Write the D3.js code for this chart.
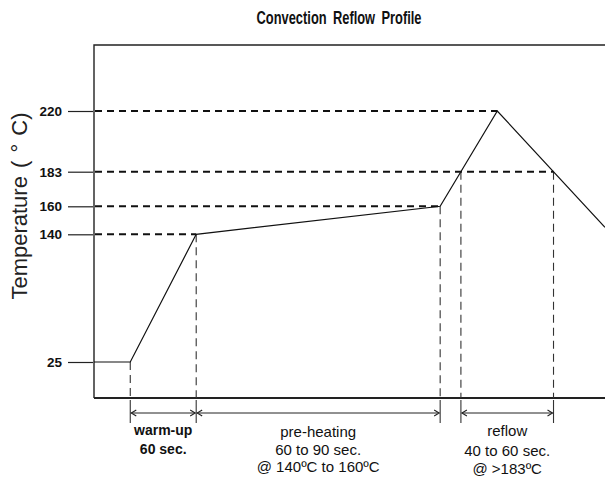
<!DOCTYPE html>
<html><head><meta charset="utf-8">
<script src="https://cdn.jsdelivr.net/npm/d3@7"></script>
<style>body{margin:0;background:#fff}svg{display:block}</style>
</head><body>
<svg id="c" width="605" height="481"></svg>
<script>
// ---- data ----
const title = "Convection Reflow Profile";
const yLabel = "Temperature ( \u00B0 C)";
const tempTicks = [25, 140, 160, 183, 220];
const profileTime = [0, 33, 93, 315, 367, 465];   // schematic seconds
const profileTemp = [25, 25, 140, 160, 220, 145];
const warmLabel = ["warm-up", "60 sec."];
const preLabel = ["pre-heating", "60 to 90 sec.", "@ 140\u00BAC to 160\u00BAC"];
const reflowLabel = ["reflow", "40 to 60 sec.", "@ >183\u00BAC"];
const reflowTemp = 183;

// ---- layout ----
const svg = d3.select("#c");
const box = {left: 94, right: 606, top: 45, bottom: 398};
const x = d3.scaleLinear().domain([0, 465]).range([94, 605]);
const y = d3.scaleLinear().domain(tempTicks).range([362, 234.3, 206.3, 171.7, 111]);
const font = "'Liberation Sans', Arial, Helvetica, sans-serif";

const pts = profileTime.map((t, i) => [x(t), y(profileTemp[i])]);

// pixel-space crossings of a temperature level
function crossings(temp) {
  const ty = y(temp), out = [];
  for (let i = 0; i < pts.length - 1; i++) {
    const [x0, y0] = pts[i], [x1, y1] = pts[i + 1];
    if ((ty - y0) * (ty - y1) <= 0 && y0 !== y1) {
      const f = (ty - y0) / (y1 - y0);
      const cx = x0 + f * (x1 - x0);
      if (!out.some(v => Math.abs(v - cx) < 0.5)) out.push(cx);
    }
  }
  return out;
}

// ---- title ----
svg.append("text").attr("x", 339).attr("y", 24).attr("text-anchor", "middle")
  .attr("font-family", font).attr("font-weight", "bold").attr("font-size", 19)
  .attr("word-spacing", 4)
  .attr("textLength", 165).attr("lengthAdjust", "spacingAndGlyphs")
  .attr("fill", "#111").text(title);

// ---- y label ----
svg.append("text").attr("transform", "translate(27,206) rotate(-90)")
  .attr("text-anchor", "middle").attr("font-family", font).attr("font-size", 22)
  .attr("word-spacing", 2)
  .attr("fill", "#222").text(yLabel);

// ---- box ----
svg.append("path")
  .attr("d", `M${box.right},${box.top}H${box.left}V${box.bottom}`)
  .attr("fill", "none").attr("stroke", "#222").attr("stroke-width", 1.4);
svg.append("line").attr("x1", box.left).attr("x2", box.right)
  .attr("y1", box.bottom).attr("y2", box.bottom)
  .attr("stroke", "#222").attr("stroke-width", 2);

// ---- y axis ticks ----
const yAxis = d3.axisLeft(y).tickValues(tempTicks).tickSize(25).tickPadding(6);
const gy = svg.append("g").attr("transform", `translate(${box.left - 1},0)`).call(yAxis);
gy.select(".domain").remove();
gy.selectAll(".tick line").attr("stroke", "#222").attr("stroke-width", 1.2);
gy.selectAll(".tick text").attr("font-family", font).attr("font-weight", "bold")
  .attr("font-size", 13.5).attr("fill", "#111");

// ---- horizontal dashed guides ----
const hGuides = [
  {temp: 140, end: crossings(140)[0]},
  {temp: 160, end: crossings(160)[0]},
  {temp: 183, end: crossings(183).slice(-1)[0]},
  {temp: 220, end: crossings(220)[0]}
];
svg.selectAll(".hg").data(hGuides).join("line").attr("class", "hg")
  .attr("x1", box.left + 1).attr("x2", d => d.end)
  .attr("y1", d => y(d.temp)).attr("y2", d => y(d.temp))
  .attr("stroke", "#111").attr("stroke-width", 2).attr("stroke-dasharray", "7,5");

// ---- vertical guides ----
const c183 = crossings(reflowTemp);
const vGuides = [
  {x: x(profileTime[1]), y: y(profileTemp[1])},
  {x: x(profileTime[2]), y: y(profileTemp[2])},
  {x: x(profileTime[3]), y: y(profileTemp[3])},
  {x: c183[0], y: y(reflowTemp)},
  {x: c183[c183.length - 1], y: y(reflowTemp)}
];
svg.selectAll(".vg").data(vGuides).join("line").attr("class", "vg")
  .attr("x1", d => d.x).attr("x2", d => d.x)
  .attr("y1", d => d.y).attr("y2", box.bottom)
  .attr("stroke", "#333").attr("stroke-width", 1.1).attr("stroke-dasharray", "8,5");
svg.selectAll(".vt").data(vGuides).join("line").attr("class", "vt")
  .attr("x1", d => d.x).attr("x2", d => d.x)
  .attr("y1", box.bottom + 2).attr("y2", 423)
  .attr("stroke", "#333").attr("stroke-width", 1.1);

// ---- profile curve ----
svg.append("path").datum(pts).attr("d", d3.line())
  .attr("fill", "none").attr("stroke", "#111").attr("stroke-width", 1.2);

// ---- phase arrows & labels ----
const phases = [
  {from: x(profileTime[1]), to: x(profileTime[2]), lines: warmLabel, bold: true, base: [435, 454]},
  {from: x(profileTime[2]), to: x(profileTime[3]), lines: preLabel, bold: false, base: [437, 455, 472]},
  {from: c183[0], to: c183[c183.length - 1], lines: reflowLabel, bold: false, base: [436, 456, 474]}
];
const ay = 413;
const ag = svg.selectAll(".ph").data(phases).join("g").attr("class", "ph");
ag.append("line").attr("x1", d => d.from + 1).attr("x2", d => d.to - 1)
  .attr("y1", ay).attr("y2", ay).attr("stroke", "#222").attr("stroke-width", 1);
ag.append("path")
  .attr("d", d => `M${d.from + 6},${ay - 3}L${d.from + 1},${ay}L${d.from + 6},${ay + 3}` +
                  `M${d.to - 6},${ay - 3}L${d.to - 1},${ay}L${d.to - 6},${ay + 3}`)
  .attr("fill", "none").attr("stroke", "#222").attr("stroke-width", 1.1);
ag.each(function(d) {
  const g = d3.select(this);
  d.lines.forEach((t, i) => {
    g.append("text").attr("x", (d.from + d.to) / 2).attr("y", d.base[i])
      .attr("text-anchor", "middle").attr("font-family", font)
      .attr("font-weight", d.bold ? "bold" : "normal")
      .attr("font-size", d.bold ? 14 : 15).attr("fill", "#111").text(t);
  });
});
</script>
</body></html>
